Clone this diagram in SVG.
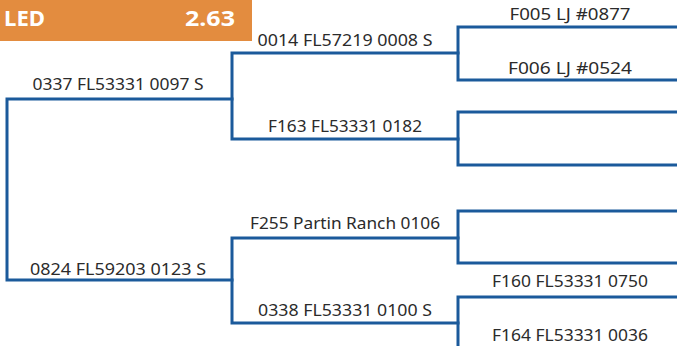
<svg xmlns="http://www.w3.org/2000/svg" width="677" height="346" viewBox="0 0 677 346">
<style>
.ln{fill:none;stroke:#1b5a9b;stroke-width:3;stroke-linecap:square}
.lb{font-family:"Noto Sans","Liberation Sans",Arial,sans-serif;font-size:16px;fill:#2b2b2b;text-anchor:middle}
.hd{font-family:"Noto Sans","Liberation Sans",Arial,sans-serif;font-size:21px;font-weight:bold;fill:#ffffff}
</style>
<rect width="677" height="346" fill="#ffffff"/>
<g id="header">
<rect x="0" y="0" width="252" height="41" fill="#e38c3f"/>
<text class="hd" x="4" y="26" textLength="41" lengthAdjust="spacingAndGlyphs">LED</text>
<text class="hd" x="235" y="26" text-anchor="end" textLength="50" lengthAdjust="spacingAndGlyphs">2.63</text>
</g>
<g id="connectors">
<path class="ln" d="M232,99 H7 V280 H232"/>
<path class="ln" d="M458,53 H232 V139 H458"/>
<path class="ln" d="M458,238 H232 V323 H458"/>
<path class="ln" d="M677,27 H458 V80 H677"/>
<path class="ln" d="M677,112 H458 V165 H677"/>
<path class="ln" d="M677,211 H458 V263 H677"/>
<path class="ln" d="M677,297 H458 V349 H677"/>
</g>
<g id="n0337"><text class="lb" x="118" y="90" textLength="171" lengthAdjust="spacingAndGlyphs">0337 FL53331 0097 S</text></g>
<g id="n0824"><text class="lb" x="118" y="275" textLength="176" lengthAdjust="spacingAndGlyphs">0824 FL59203 0123 S</text></g>
<g id="n0014"><text class="lb" x="345" y="46" textLength="175" lengthAdjust="spacingAndGlyphs">0014 FL57219 0008 S</text></g>
<g id="nF163"><text class="lb" x="345" y="132" textLength="154" lengthAdjust="spacingAndGlyphs">F163 FL53331 0182</text></g>
<g id="nF255"><text class="lb" x="345" y="229" textLength="190" lengthAdjust="spacingAndGlyphs">F255 Partin Ranch 0106</text></g>
<g id="n0338"><text class="lb" x="345" y="316" textLength="174" lengthAdjust="spacingAndGlyphs">0338 FL53331 0100 S</text></g>
<g id="nF005"><text class="lb" x="570" y="20" textLength="121" lengthAdjust="spacingAndGlyphs">F005 LJ #0877</text></g>
<g id="nF006"><text class="lb" x="570" y="74" textLength="124" lengthAdjust="spacingAndGlyphs">F006 LJ #0524</text></g>
<g id="nF160"><text class="lb" x="570" y="287" textLength="156" lengthAdjust="spacingAndGlyphs">F160 FL53331 0750</text></g>
<g id="nF164"><text class="lb" x="570" y="341" textLength="156" lengthAdjust="spacingAndGlyphs">F164 FL53331 0036</text></g>
</svg>
